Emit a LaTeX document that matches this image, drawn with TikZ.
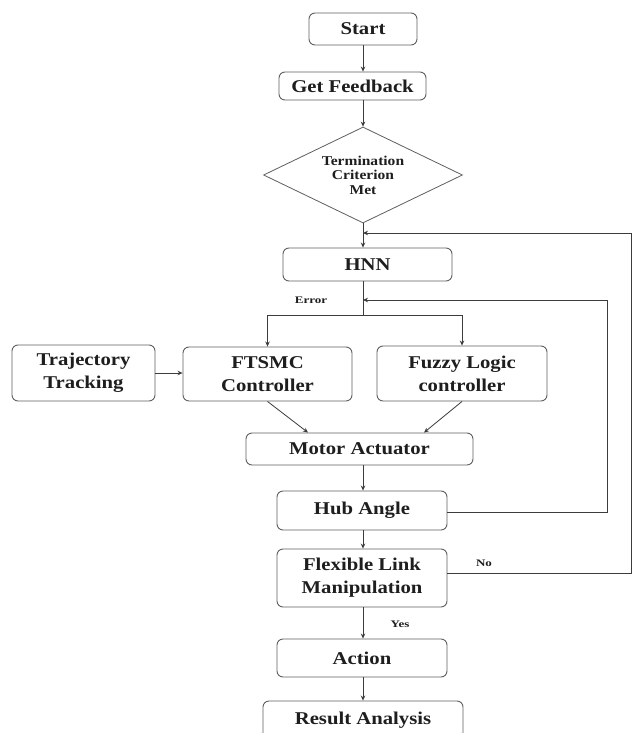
\documentclass[tikz,border=0pt]{standalone}
\usepackage{fontspec}
\setmainfont{Liberation Serif}
\newfontfamily\wideserif[FakeStretch=1.15]{Liberation Serif}
\newfontfamily\lblserif[FakeStretch=1.3]{Liberation Serif}
\usetikzlibrary{shapes.geometric,arrows.meta}
\definecolor{boxgray}{RGB}{95,95,95}
\definecolor{linecol}{RGB}{60,60,60}
\definecolor{textdark}{RGB}{30,30,30}
\begin{document}
\begin{tikzpicture}[x=1pt,y=-1pt,
  box/.style={draw=boxgray, line width=0.9pt, rounded corners=6pt, inner sep=0pt,
    align=center, text=textdark, font=\wideserif\bfseries\fontsize{18}{23}\selectfont},
  decision/.style={draw=boxgray, line width=0.8pt, diamond, shape aspect=2, inner sep=0pt,
    align=center, text=textdark, font=\wideserif\bfseries\fontsize{13.5}{14.5}\selectfont,
    minimum width=199pt, minimum height=96pt},
  lbl/.style={inner sep=0pt, text=textdark, font=\lblserif\bfseries\fontsize{10}{12}\selectfont},
  conn/.style={draw=linecol, line width=0.8pt},
  arr/.style={conn, -{Stealth[length=5pt,width=4.5pt]}}]
\useasboundingbox (0,0) rectangle (632,733);
\clip (0,0) rectangle (632,733);
\fill[white] (0,0) rectangle (632,733);

% nodes
\node[box, minimum width=108pt, minimum height=32pt] (start) at (363,29) {Start};
\node[box, minimum width=147pt, minimum height=28pt] (gf) at (352.5,86) {Get Feedback};
\node[decision] (dia) at (363,175) {Termination\\Criterion\\Met};
\node[box, minimum width=169pt, minimum height=33pt] (hnn) at (367.5,264.5) {HNN};
\node[box, minimum width=143pt, minimum height=56pt] (traj) at (83.5,373) {Trajectory\\Tracking};
\node[box, minimum width=169pt, minimum height=54pt] (ftsmc) at (267.5,374) {FTSMC\\Controller};
\node[box, minimum width=170pt, minimum height=55pt] (fuzzy) at (462,373.5) {Fuzzy Logic\\controller};
\node[box, minimum width=227pt, minimum height=32pt] (motor) at (359.5,449) {Motor Actuator};
\node[box, minimum width=170pt, minimum height=39pt] (hub) at (362,510.5) {Hub Angle};
\node[box, minimum width=170pt, minimum height=58pt] (flex) at (362,578) {Flexible Link\\Manipulation};
\node[box, minimum width=170pt, minimum height=38pt] (action) at (362,658) {Action};
\node[box, minimum width=200pt, minimum height=38pt] (result) at (363,720) {Result Analysis};

% labels
\node[lbl] (errlbl) at (311,300) {Error};
\node[lbl] (nolbl) at (484,563) {No};
\node[lbl] (yeslbl) at (400,624) {Yes};

% helper coordinates
\coordinate (j1) at (363,233);
\coordinate (e1) at (363,300);
\coordinate (j2) at (363,315);
\coordinate (r1) at (631,233);
\coordinate (r1b) at (631,573);
\coordinate (r2) at (607,300);
\coordinate (r2b) at (607,512);

% main flow
\draw[arr] (start.south) -- (start.south |- gf.north);
\draw[arr] (start.south |- gf.south) -- (dia.north);
\draw[arr] (dia.south) -- (dia.south |- hnn.north);
\draw[conn] (j2 |- hnn.south) -- (j2);
\draw[arr] (j2) -| (ftsmc.north);
\draw[arr] (j2) -| (fuzzy.north);
\draw[arr] (traj.east) -- (traj.east -| ftsmc.west);
\draw[arr] (ftsmc.south) -- ([xshift=-51.5pt]motor.north);
\draw[arr] (fuzzy.south) -- ([xshift=64.5pt]motor.north);
\draw[arr] (motor.south -| j2) -- (j2 |- hub.north);
\draw[arr] (j2 |- hub.south) -- (j2 |- flex.north);
\draw[arr] (j2 |- flex.south) -- (j2 |- action.north);
\draw[arr] (j2 |- action.south) -- (j2 |- result.north);

% feedback loops
\draw[arr] (hub.east |- r2b) -- (r2b) -- (r2) -- (e1);
\draw[arr] (flex.east |- r1b) -- (r1b) -- (r1) -- (j1);
\end{tikzpicture}
\end{document}
